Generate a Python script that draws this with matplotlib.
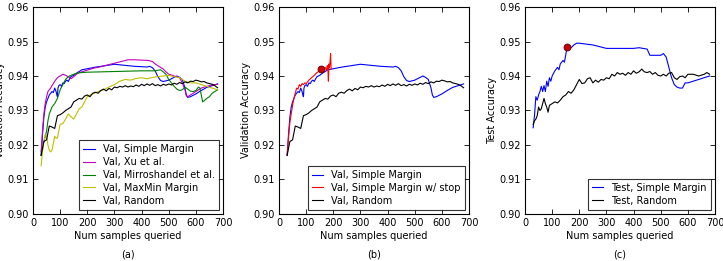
import numpy as np
import matplotlib
matplotlib.use('Agg')
import matplotlib.pyplot as plt

# validation curves, panel (a) and (b)
sm_x = [30, 35, 40, 45, 50, 55, 60, 65, 70, 75, 80, 85, 88, 90, 92, 95,
        100, 105, 110, 115, 120, 125, 130, 135, 140,
        150, 160, 170, 180, 200,
        225, 250, 275, 300, 325, 350, 375, 400,
        420, 430, 440, 450, 460, 470, 480, 490, 500, 510, 520, 530, 540, 550, 560, 565, 570, 580, 590, 600,
        620, 640, 660, 680]
sm_val = [0.917, 0.923, 0.928, 0.931, 0.9325, 0.9335, 0.9345, 0.935, 0.9355, 0.9352, 0.9365, 0.9355, 0.9345, 0.934, 0.9365, 0.9372,
          0.9375, 0.937, 0.938, 0.9378, 0.9385, 0.9388, 0.9384, 0.9392, 0.9398,
          0.9402, 0.9408, 0.9413, 0.9418, 0.9421,
          0.9425, 0.9428, 0.9431, 0.9434, 0.9432, 0.9430, 0.9428, 0.9427,
          0.9426, 0.9428, 0.9424, 0.9415, 0.9398, 0.9387, 0.9384, 0.9386, 0.9388, 0.9392, 0.9396, 0.9400, 0.9396, 0.9390, 0.9365, 0.9345, 0.9338, 0.9340, 0.9344, 0.9348,
          0.9358, 0.9367, 0.9372, 0.9377]

xu_x = [30, 35, 40, 45, 50, 55, 60, 65, 70, 75, 80, 85, 90, 95, 100, 110, 120, 130, 140, 150, 160, 170, 180, 200,
        225, 250, 275, 300, 325, 350, 375, 400, 425, 440, 450, 460, 470, 480, 490, 500, 510, 520, 530, 540, 550,
        560, 565, 570, 580, 600, 620, 640, 660, 680]
xu_val = [0.918, 0.924, 0.929, 0.932, 0.934, 0.9355, 0.936, 0.9365, 0.9372, 0.9378, 0.9385, 0.939, 0.9395, 0.9398, 0.940, 0.9405,
          0.9402, 0.9398, 0.9392, 0.9398, 0.9405, 0.9410, 0.9412, 0.9417,
          0.9423, 0.9427, 0.9432, 0.9437, 0.9442, 0.9447, 0.9447, 0.9446, 0.9445, 0.9442, 0.9435, 0.943, 0.9425, 0.942, 0.9412,
          0.9405, 0.9403, 0.940, 0.9398, 0.9395, 0.938,
          0.936, 0.9342, 0.934, 0.9345, 0.9355, 0.9365, 0.937, 0.9374, 0.9376]

mir_x = [30, 35, 40, 45, 50, 55, 60, 65, 70, 80, 90, 100, 110, 120, 130, 140, 150, 160, 180, 200, 250, 300, 350, 400, 450,
         470, 480, 490, 500, 510, 520, 530, 540, 550, 560, 570, 580, 590, 600, 610, 615, 625, 630, 640, 650, 660, 670, 680]
mir_val = [0.917, 0.919, 0.921, 0.9225, 0.924, 0.927, 0.929, 0.930, 0.931, 0.932, 0.9335, 0.936, 0.9375, 0.939, 0.9398,
           0.9402, 0.9405, 0.9408, 0.941, 0.9411, 0.9412, 0.9413, 0.9414, 0.9415, 0.9415,
           0.9418, 0.9412, 0.9405, 0.939, 0.938, 0.937, 0.9362, 0.9358, 0.936, 0.9368, 0.9362, 0.9356, 0.9355, 0.9358,
           0.9368, 0.9365, 0.9325, 0.9328, 0.9335, 0.934, 0.935, 0.9355, 0.936]

mm_x = [30, 35, 40, 45, 50, 55, 60, 65, 70, 75, 80, 85, 90, 95, 100, 110, 120, 130, 140, 150, 160, 170, 180, 190, 200,
        210, 220, 240, 260, 280, 300, 320, 340, 360, 380, 400, 420, 440, 460, 480, 500, 520, 540, 560, 580, 600,
        620, 640, 660, 680]
mm_val = [0.914, 0.918, 0.921, 0.923, 0.9228, 0.920, 0.9185, 0.918, 0.9185, 0.9205, 0.9225, 0.922, 0.922, 0.924, 0.926,
          0.9262, 0.9275, 0.929, 0.9282, 0.9275, 0.929, 0.9305, 0.931, 0.9325, 0.934,
          0.9345, 0.9348, 0.9355, 0.936, 0.9368, 0.9375, 0.9385, 0.939, 0.9388, 0.9393, 0.9395, 0.9392, 0.9396, 0.9398,
          0.940, 0.9402, 0.9398, 0.9395, 0.9385, 0.938, 0.938, 0.9375, 0.937, 0.9365, 0.936]

rnd_x = [30, 40, 50, 60, 70, 80, 90, 100, 110, 120, 130, 140, 150, 160, 170, 180, 190, 200,
         210, 220, 230, 240, 250, 260, 270, 280, 290, 300, 310, 320, 330, 340, 350, 360, 370, 380, 390, 400,
         410, 420, 430, 440, 450, 460, 470, 480, 490, 500, 510, 520, 530, 540, 550, 560, 570, 580, 590, 600,
         610, 620, 630, 640, 650, 660, 670, 680]
rnd_val = [0.917, 0.921, 0.9215, 0.9255, 0.9252, 0.9248, 0.9285, 0.9288, 0.9293, 0.9300, 0.9305, 0.9310, 0.9325, 0.9330,
           0.9335, 0.9333, 0.9342, 0.9345,
           0.9340, 0.9350, 0.9353, 0.9350, 0.9358, 0.9362, 0.9357, 0.9364, 0.9360, 0.9368, 0.9366, 0.9370, 0.9368,
           0.9372, 0.9368, 0.9371, 0.9369, 0.9374, 0.9370, 0.9376,
           0.9372, 0.9377, 0.9373, 0.9378, 0.9372, 0.9375, 0.9371, 0.9376, 0.9373, 0.9377, 0.9374, 0.9379, 0.9376,
           0.9381, 0.9378, 0.9383, 0.9380, 0.9385, 0.9384, 0.9388,
           0.9386, 0.9383, 0.9384, 0.9380, 0.9378, 0.9376, 0.9372, 0.9366]

# simple margin with stopping criterion, panel (b)
stop_x = [30, 35, 40, 45, 50, 55, 60, 65, 70, 75, 80, 85, 90, 95, 100, 110, 120, 130, 140, 150, 155, 160, 165, 170,
          175, 178, 180, 182, 184, 186, 188, 190, 192]
stop_val = [0.917, 0.922, 0.9265, 0.929, 0.9315, 0.9335, 0.935, 0.9365, 0.9362, 0.9375, 0.937, 0.9378, 0.9375, 0.938,
            0.9378, 0.9388, 0.9395, 0.9402, 0.941, 0.9415, 0.942, 0.9418, 0.9422, 0.9425, 0.9418, 0.943, 0.9422,
            0.9385, 0.9435, 0.9425, 0.944, 0.9465, 0.942]
stop_pt_val = (155, 0.942)

# test curves, panel (c)
tsm_x = [30, 35, 40, 45, 50, 55, 60, 65, 70, 75, 80, 85, 90, 95, 100, 110, 120, 125, 130, 140, 145, 150, 155, 160, 170,
         180, 190, 200, 250, 300, 350, 400, 420, 450, 460, 470, 500, 510, 520, 530, 540, 550, 560, 570, 580, 590, 600,
         620, 640, 660, 680]
tsm_test = [0.925, 0.9285, 0.934, 0.933, 0.9345, 0.9355, 0.937, 0.9355, 0.9372, 0.9355, 0.9385, 0.937, 0.9395, 0.9385,
            0.940, 0.9415, 0.9425, 0.9418, 0.9435, 0.9445, 0.944, 0.946, 0.9485, 0.9485, 0.9482,
            0.949, 0.9495, 0.9495, 0.949, 0.948, 0.948, 0.948, 0.9482, 0.9478, 0.946, 0.946, 0.946, 0.9465, 0.9455,
            0.9425, 0.9395, 0.9375, 0.9368, 0.9365, 0.9365, 0.938, 0.938,
            0.9385, 0.939, 0.9395, 0.940]

trnd_x = [30, 35, 40, 45, 50, 55, 60, 65, 70, 75, 80, 85, 90,
          100, 110, 120, 130, 140, 150, 160, 170, 180, 190, 200, 210, 220, 230, 240, 250, 260, 270, 280, 290, 300,
          310, 320, 330, 340, 350, 360, 370, 380, 390, 400, 410, 420, 430, 440, 450, 460, 470, 480, 490, 500,
          510, 520, 530, 540, 550, 560, 570, 580, 590, 600, 620, 640, 660, 670, 680]
trnd_test = [0.926, 0.927, 0.9275, 0.9285, 0.931, 0.930, 0.9305, 0.932, 0.9335, 0.932, 0.931, 0.9295, 0.9315,
             0.932, 0.9325, 0.9322, 0.933, 0.934, 0.9345, 0.9355, 0.935, 0.936, 0.9375, 0.939, 0.9378, 0.938, 0.9392,
             0.9395, 0.938, 0.9388, 0.9382, 0.939, 0.9388, 0.9395,
             0.9392, 0.9405, 0.940, 0.941, 0.9405, 0.9408, 0.9402, 0.941, 0.9405, 0.9415, 0.9408, 0.9412, 0.942,
             0.9412, 0.941, 0.9413, 0.9405, 0.941, 0.9402, 0.940,
             0.9405, 0.940, 0.9408, 0.941, 0.9395, 0.939, 0.9398, 0.940, 0.9395, 0.9405, 0.9405, 0.940, 0.9405,
             0.941, 0.9405]
stop_pt_test = (155, 0.9485)

FS = 7
LW = 0.8


def style_axes(ax, ylabel, tag):
    ax.set_xlim(0, 700)
    ax.set_ylim(0.90, 0.96)
    ax.set_xticks(range(0, 701, 100))
    ax.set_yticks([0.90, 0.91, 0.92, 0.93, 0.94, 0.95, 0.96])
    ax.set_yticklabels(['%.2f' % v for v in [0.90, 0.91, 0.92, 0.93, 0.94, 0.95, 0.96]])
    ax.tick_params(direction='in', top=True, right=True, labelsize=FS, length=3.5, width=0.6, pad=3)
    for s in ax.spines.values():
        s.set_linewidth(0.8)
    ax.set_xlabel('Num samples queried', fontsize=FS, labelpad=2)
    ax.set_ylabel(ylabel, fontsize=FS)
    ax.yaxis.set_label_coords(-28 / 190, 0.5)
    ax.text(0.5, -0.195, tag, transform=ax.transAxes, ha='center', va='center', fontsize=FS)
    leg = ax.legend(loc='lower right', fontsize=FS, handlelength=1.2, handletextpad=0.8,
                    borderaxespad=0.45, fancybox=False, labelspacing=0.3, borderpad=0.4)
    leg.get_frame().set_edgecolor('black')
    leg.get_frame().set_linewidth(0.8)


fig = plt.figure(figsize=(7.23, 2.61), dpi=100)
w, h = 190 / 723, 207 / 261
b = 47 / 261
ax1 = fig.add_axes([33 / 723, b, w, h])
ax2 = fig.add_axes([279 / 723, b, w, h])
ax3 = fig.add_axes([525 / 723, b, w, h])

ax1.plot(sm_x, sm_val, color='b', lw=LW, label='Val, Simple Margin')
ax1.plot(xu_x, xu_val, color='m', lw=LW, label='Val, Xu et al.')
ax1.plot(mir_x, mir_val, color='g', lw=LW, label='Val, Mirroshandel et al.')
ax1.plot(mm_x, mm_val, color='y', lw=LW, label='Val, MaxMin Margin')
ax1.plot(rnd_x, rnd_val, color='k', lw=LW, label='Val, Random')
style_axes(ax1, 'Validation Accuracy', '(a)')

ax2.plot(sm_x, sm_val, color='b', lw=LW, label='Val, Simple Margin')
ax2.plot(stop_x, stop_val, color='r', lw=LW, label='Val, Simple Margin w/ stop')
ax2.plot(rnd_x, rnd_val, color='k', lw=LW, label='Val, Random')
ax2.plot(*stop_pt_val, 'o', color='#cc0000', mec='#550000', ms=5, mew=0.6)
style_axes(ax2, 'Validation Accuracy', '(b)')

ax3.plot(tsm_x, tsm_test, color='b', lw=LW, label='Test, Simple Margin')
ax3.plot(trnd_x, trnd_test, color='k', lw=LW, label='Test, Random')
ax3.plot(*stop_pt_test, 'o', color='#cc0000', mec='#550000', ms=5, mew=0.6)
style_axes(ax3, 'Test Accuracy', '(c)')

fig.savefig('out.png', dpi=100, facecolor='white')
